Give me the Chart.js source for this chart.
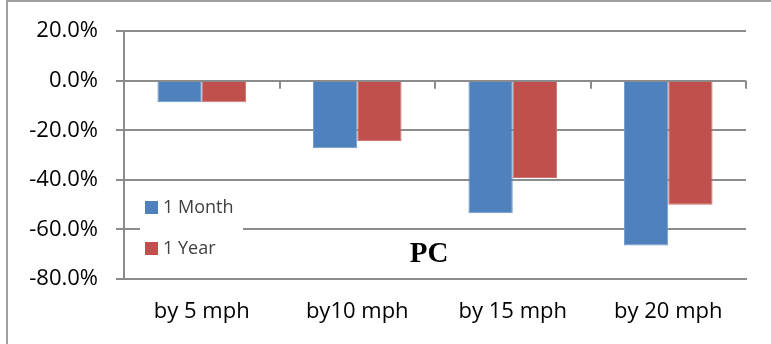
<!DOCTYPE html>
<html>
<head>
<meta charset="utf-8">
<script src="https://cdn.jsdelivr.net/npm/chart.js@4"></script>
<style>
  html, body { margin: 0; padding: 0; background: #fff; }
  #wrap { width: 771px; height: 344px; position: relative; }
</style>
</head>
<body>
<div id="wrap"><canvas id="myChart" width="771" height="344"></canvas></div>
<script>
// 데이터
const categories = ['by 5 mph', 'by10 mph', 'by 15 mph', 'by 20 mph'];
const monthValues = [-8.7, -27.2, -53.5, -66.5];
const yearValues = [-8.7, -24.3, -39.2, -50.0];
const seriesNames = ['1 Month', '1 Year'];
const seriesColors = ['#4F81BD', '#C0504D'];
const yMin = -80, yMax = 20, yStep = 20;
const noteText = 'PC';

const gridColor = '#8c8c8c';
const fontFamily = '"Open Sans", "Noto Sans", sans-serif';

// 테두리, 0선 눈금, 범례, PC 글자
const extras = {
  id: 'extras',
  beforeDraw(chart) {
    const c = chart.ctx;
    c.save();
    c.strokeStyle = '#a0a0a0';
    c.lineWidth = 2;
    c.beginPath();
    c.moveTo(7, 344); c.lineTo(7, 1); c.lineTo(771, 1);
    c.stroke();
    c.restore();
  },
  afterDraw(chart) {
    const c = chart.ctx;
    const xs = chart.scales.x, ys = chart.scales.y;
    const y0 = ys.getPixelForValue(0);
    c.save();
    c.strokeStyle = gridColor;
    c.lineWidth = 2;
    for (let i = 0; i < categories.length; i++) {
      const x = Math.round(xs.getPixelForValue(i + 0.5));
      c.beginPath(); c.moveTo(x, y0); c.lineTo(x, y0 + 8); c.stroke();
    }
    // legend box
    c.fillStyle = '#fff';
    c.fillRect(140, 190, 103, 72);
    c.font = '18px ' + fontFamily;
    c.textBaseline = 'middle';
    chart.data.datasets.forEach((ds, i) => {
      const cy = 207 + i * 41;
      c.fillStyle = ds.backgroundColor;
      c.fillRect(145, cy - 6, 13, 13);
      c.fillStyle = '#404040';
      c.fillText(ds.label, 163, cy + 1);
    });
    // PC
    c.fillStyle = '#000';
    c.font = 'bold 29px "Liberation Serif", "DejaVu Serif", serif';
    c.textAlign = 'center';
    c.textBaseline = 'alphabetic';
    c.fillText(noteText, 429, 262);
    c.restore();
  }
};

document.addEventListener('DOMContentLoaded', function () {
  const ctx = document.getElementById('myChart').getContext('2d');

  const config = {
    type: 'bar',
    data: {
      labels: categories,
      datasets: [
        { label: seriesNames[0], data: monthValues, backgroundColor: seriesColors[0], borderColor: '#6f98cc', borderWidth: 1, borderSkipped: 'start' },
        { label: seriesNames[1], data: yearValues, backgroundColor: seriesColors[1], borderColor: '#cf7470', borderWidth: 1, borderSkipped: 'start' }
      ]
    },
    options: {
      responsive: false,
      animation: false,
      layout: { padding: { top: 30, right: 25, left: 0, bottom: 0 } },
      datasets: { bar: { categoryPercentage: 0.57, barPercentage: 1 } },
      plugins: {
        legend: { display: false },
        tooltip: { enabled: false }
      },
      scales: {
        x: {
          grid: { display: true, drawOnChartArea: false, drawTicks: false },
          border: { display: true, color: gridColor, width: 2 },
          ticks: { color: '#000', padding: 20, font: { size: 22, family: fontFamily } },
          afterFit(s) { s.height = 65; }
        },
        y: {
          min: yMin,
          max: yMax,
          grid: { color: gridColor, lineWidth: 2, tickLength: 8 },
          border: { display: true, color: gridColor, width: 2 },
          ticks: {
            stepSize: yStep,
            padding: 18,
            color: '#000',
            font: { size: 22, family: fontFamily },
            callback: v => v.toFixed(1) + '%'
          },
          afterFit(s) { s.width = 124; }
        }
      }
    },
    plugins: [extras]
  };

  new Chart(ctx, config);
});
</script>
</body>
</html>
